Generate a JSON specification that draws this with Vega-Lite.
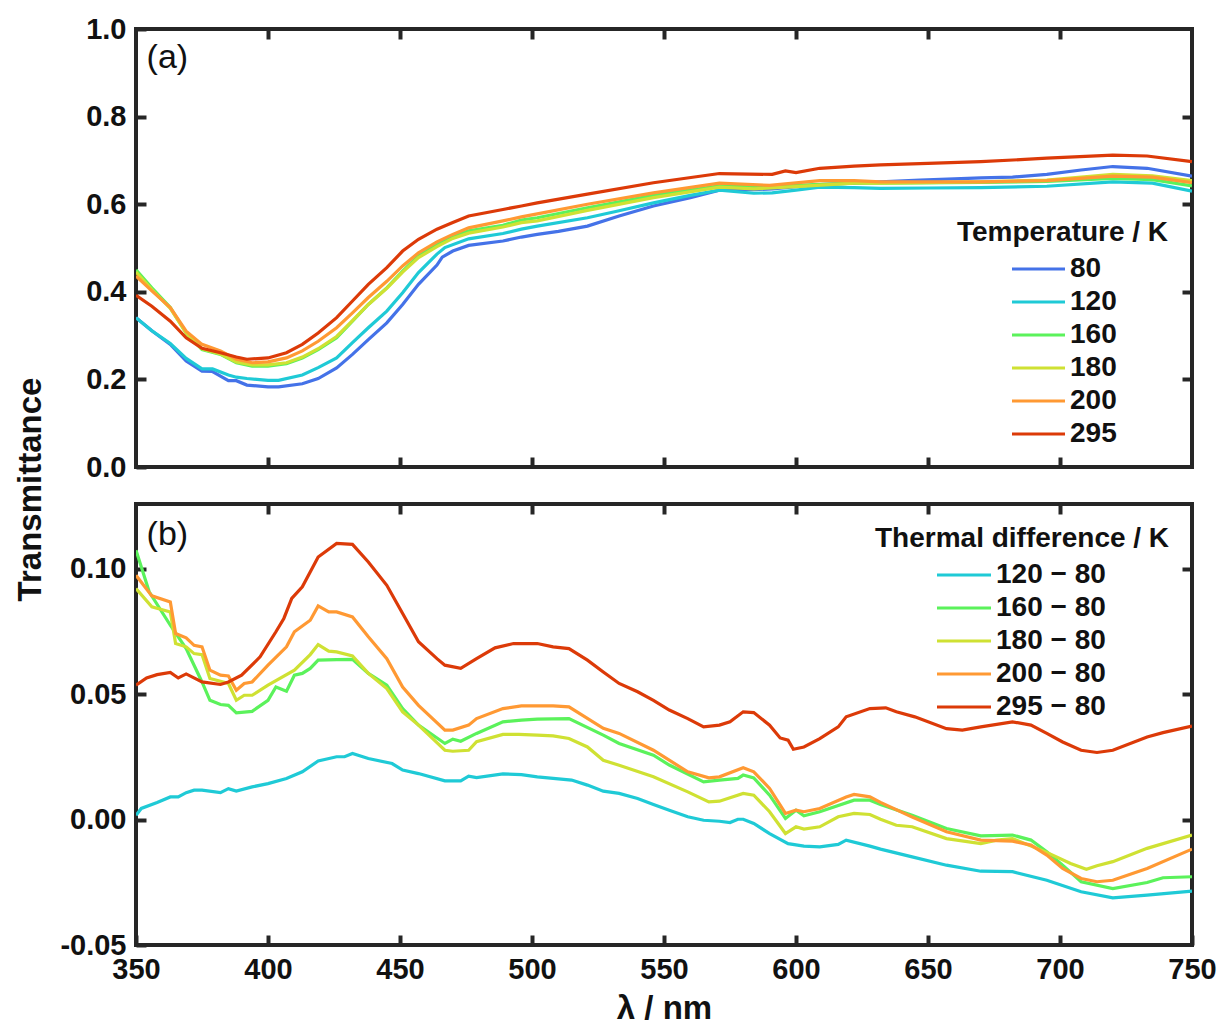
{
"$schema": "https://vega.github.io/schema/vega-lite/v6.json",
"autosize": {"type": "pad"},
"padding": {"left": 12, "top": 13, "right": 5, "bottom": 5},
"background": "white",
"config": {
  "font": "Liberation Sans",
  "view": {"stroke": "#262626", "strokeWidth": 4},
  "axis": {"domain": false, "grid": false, "tickSize": -10, "tickWidth": 4, "tickColor": "#262626", "labelFont": "Liberation Sans", "labelFontWeight": "bold", "labelFontSize": 29, "labelColor": "#111111", "labelPadding": 20, "titleFont": "Liberation Sans", "titleFontWeight": "bold", "titleFontSize": 33, "titleColor": "#111111"},
  "legend": {"titleFont": "Liberation Sans", "titleFontWeight": "bold", "titleFontSize": 28, "titleColor": "#111111", "titleLimit": 500, "labelLimit": 300, "labelFont": "Liberation Sans", "labelFontWeight": "bold", "labelFontSize": 28, "labelColor": "#111111", "padding": 0, "rowPadding": 5, "titlePadding": 8, "symbolSize": 100, "symbolStrokeWidth": 3}
},
"datasets": {
"top": [
{"s":"80","l":350,"v":0.341},{"s":"80","l":356,"v":0.311},{"s":"80","l":363,"v":0.280},{"s":"80","l":369,"v":0.242},{"s":"80","l":375,"v":0.219},{"s":"80","l":379,"v":0.218},{"s":"80","l":385,"v":0.197},{"s":"80","l":388,"v":0.197},{"s":"80","l":392,"v":0.187},{"s":"80","l":400,"v":0.183},{"s":"80","l":404,"v":0.183},{"s":"80","l":413,"v":0.190},{"s":"80","l":419,"v":0.202},{"s":"80","l":426,"v":0.226},{"s":"80","l":432,"v":0.257},{"s":"80","l":438,"v":0.291},{"s":"80","l":445,"v":0.329},{"s":"80","l":451,"v":0.371},{"s":"80","l":457,"v":0.417},{"s":"80","l":464,"v":0.461},{"s":"80","l":466,"v":0.479},{"s":"80","l":470,"v":0.493},{"s":"80","l":476,"v":0.506},{"s":"80","l":489,"v":0.516},{"s":"80","l":496,"v":0.525},{"s":"80","l":502,"v":0.531},{"s":"80","l":510,"v":0.538},{"s":"80","l":521,"v":0.550},{"s":"80","l":533,"v":0.573},{"s":"80","l":546,"v":0.596},{"s":"80","l":560,"v":0.615},{"s":"80","l":571,"v":0.632},{"s":"80","l":584,"v":0.633},{"s":"80","l":591,"v":0.635},{"s":"80","l":600,"v":0.640},{"s":"80","l":609,"v":0.645},{"s":"80","l":622,"v":0.648},{"s":"80","l":632,"v":0.651},{"s":"80","l":647,"v":0.655},{"s":"80","l":660,"v":0.658},{"s":"80","l":670,"v":0.660},{"s":"80","l":682,"v":0.662},{"s":"80","l":695,"v":0.668},{"s":"80","l":708,"v":0.678},{"s":"80","l":720,"v":0.686},{"s":"80","l":733,"v":0.682},{"s":"80","l":750,"v":0.664},
{"s":"120","l":350,"v":0.341},{"s":"120","l":356,"v":0.311},{"s":"120","l":363,"v":0.282},{"s":"120","l":369,"v":0.248},{"s":"120","l":375,"v":0.224},{"s":"120","l":379,"v":0.224},{"s":"120","l":385,"v":0.210},{"s":"120","l":388,"v":0.205},{"s":"120","l":392,"v":0.202},{"s":"120","l":400,"v":0.198},{"s":"120","l":404,"v":0.198},{"s":"120","l":413,"v":0.210},{"s":"120","l":419,"v":0.227},{"s":"120","l":426,"v":0.249},{"s":"120","l":432,"v":0.284},{"s":"120","l":438,"v":0.318},{"s":"120","l":445,"v":0.356},{"s":"120","l":451,"v":0.398},{"s":"120","l":457,"v":0.444},{"s":"120","l":464,"v":0.486},{"s":"120","l":467,"v":0.501},{"s":"120","l":476,"v":0.521},{"s":"120","l":489,"v":0.533},{"s":"120","l":496,"v":0.543},{"s":"120","l":502,"v":0.550},{"s":"120","l":521,"v":0.569},{"s":"120","l":533,"v":0.585},{"s":"120","l":546,"v":0.603},{"s":"120","l":560,"v":0.620},{"s":"120","l":571,"v":0.632},{"s":"120","l":584,"v":0.625},{"s":"120","l":591,"v":0.626},{"s":"120","l":600,"v":0.632},{"s":"120","l":609,"v":0.639},{"s":"120","l":622,"v":0.638},{"s":"120","l":632,"v":0.636},{"s":"120","l":650,"v":0.637},{"s":"120","l":670,"v":0.638},{"s":"120","l":695,"v":0.641},{"s":"120","l":720,"v":0.651},{"s":"120","l":735,"v":0.648},{"s":"120","l":750,"v":0.630},
{"s":"160","l":350,"v":0.450},{"s":"160","l":356,"v":0.409},{"s":"160","l":363,"v":0.364},{"s":"160","l":369,"v":0.306},{"s":"160","l":375,"v":0.268},{"s":"160","l":382,"v":0.257},{"s":"160","l":388,"v":0.238},{"s":"160","l":394,"v":0.230},{"s":"160","l":400,"v":0.230},{"s":"160","l":407,"v":0.236},{"s":"160","l":413,"v":0.249},{"s":"160","l":419,"v":0.268},{"s":"160","l":426,"v":0.295},{"s":"160","l":432,"v":0.333},{"s":"160","l":438,"v":0.371},{"s":"160","l":445,"v":0.409},{"s":"160","l":451,"v":0.447},{"s":"160","l":457,"v":0.482},{"s":"160","l":464,"v":0.508},{"s":"160","l":470,"v":0.527},{"s":"160","l":476,"v":0.539},{"s":"160","l":489,"v":0.552},{"s":"160","l":496,"v":0.564},{"s":"160","l":502,"v":0.569},{"s":"160","l":521,"v":0.592},{"s":"160","l":546,"v":0.620},{"s":"160","l":571,"v":0.642},{"s":"160","l":584,"v":0.640},{"s":"160","l":600,"v":0.643},{"s":"160","l":622,"v":0.648},{"s":"160","l":632,"v":0.648},{"s":"160","l":670,"v":0.650},{"s":"160","l":695,"v":0.652},{"s":"160","l":720,"v":0.659},{"s":"160","l":735,"v":0.656},{"s":"160","l":750,"v":0.642},
{"s":"180","l":350,"v":0.445},{"s":"180","l":356,"v":0.405},{"s":"180","l":363,"v":0.362},{"s":"180","l":369,"v":0.306},{"s":"180","l":375,"v":0.270},{"s":"180","l":382,"v":0.258},{"s":"180","l":388,"v":0.240},{"s":"180","l":394,"v":0.233},{"s":"180","l":400,"v":0.233},{"s":"180","l":407,"v":0.238},{"s":"180","l":413,"v":0.251},{"s":"180","l":419,"v":0.270},{"s":"180","l":426,"v":0.298},{"s":"180","l":432,"v":0.334},{"s":"180","l":438,"v":0.371},{"s":"180","l":445,"v":0.408},{"s":"180","l":451,"v":0.445},{"s":"180","l":457,"v":0.478},{"s":"180","l":464,"v":0.503},{"s":"180","l":470,"v":0.522},{"s":"180","l":476,"v":0.534},{"s":"180","l":489,"v":0.548},{"s":"180","l":496,"v":0.558},{"s":"180","l":502,"v":0.562},{"s":"180","l":521,"v":0.586},{"s":"180","l":546,"v":0.615},{"s":"180","l":571,"v":0.639},{"s":"180","l":584,"v":0.635},{"s":"180","l":600,"v":0.640},{"s":"180","l":622,"v":0.648},{"s":"180","l":632,"v":0.648},{"s":"180","l":670,"v":0.651},{"s":"180","l":695,"v":0.655},{"s":"180","l":720,"v":0.668},{"s":"180","l":735,"v":0.665},{"s":"180","l":750,"v":0.654},
{"s":"200","l":350,"v":0.436},{"s":"200","l":356,"v":0.402},{"s":"200","l":363,"v":0.364},{"s":"200","l":369,"v":0.310},{"s":"200","l":375,"v":0.280},{"s":"200","l":382,"v":0.265},{"s":"200","l":388,"v":0.246},{"s":"200","l":394,"v":0.238},{"s":"200","l":400,"v":0.240},{"s":"200","l":407,"v":0.249},{"s":"200","l":413,"v":0.265},{"s":"200","l":419,"v":0.287},{"s":"200","l":426,"v":0.318},{"s":"200","l":432,"v":0.352},{"s":"200","l":438,"v":0.387},{"s":"200","l":445,"v":0.424},{"s":"200","l":451,"v":0.459},{"s":"200","l":457,"v":0.489},{"s":"200","l":464,"v":0.514},{"s":"200","l":470,"v":0.531},{"s":"200","l":476,"v":0.546},{"s":"200","l":489,"v":0.562},{"s":"200","l":496,"v":0.571},{"s":"200","l":502,"v":0.578},{"s":"200","l":521,"v":0.600},{"s":"200","l":546,"v":0.626},{"s":"200","l":571,"v":0.648},{"s":"200","l":590,"v":0.643},{"s":"200","l":609,"v":0.654},{"s":"200","l":622,"v":0.654},{"s":"200","l":632,"v":0.651},{"s":"200","l":670,"v":0.651},{"s":"200","l":695,"v":0.654},{"s":"200","l":720,"v":0.664},{"s":"200","l":735,"v":0.662},{"s":"200","l":750,"v":0.649},
{"s":"295","l":350,"v":0.392},{"s":"295","l":356,"v":0.367},{"s":"295","l":363,"v":0.333},{"s":"295","l":369,"v":0.295},{"s":"295","l":375,"v":0.271},{"s":"295","l":382,"v":0.261},{"s":"295","l":388,"v":0.251},{"s":"295","l":392,"v":0.246},{"s":"295","l":400,"v":0.249},{"s":"295","l":407,"v":0.261},{"s":"295","l":413,"v":0.280},{"s":"295","l":419,"v":0.306},{"s":"295","l":426,"v":0.341},{"s":"295","l":432,"v":0.379},{"s":"295","l":438,"v":0.417},{"s":"295","l":445,"v":0.455},{"s":"295","l":451,"v":0.493},{"s":"295","l":457,"v":0.520},{"s":"295","l":464,"v":0.543},{"s":"295","l":470,"v":0.558},{"s":"295","l":476,"v":0.573},{"s":"295","l":489,"v":0.588},{"s":"295","l":496,"v":0.596},{"s":"295","l":502,"v":0.603},{"s":"295","l":521,"v":0.623},{"s":"295","l":546,"v":0.649},{"s":"295","l":571,"v":0.670},{"s":"295","l":591,"v":0.668},{"s":"295","l":596,"v":0.676},{"s":"295","l":600,"v":0.672},{"s":"295","l":609,"v":0.682},{"s":"295","l":622,"v":0.687},{"s":"295","l":632,"v":0.690},{"s":"295","l":650,"v":0.693},{"s":"295","l":670,"v":0.697},{"s":"295","l":695,"v":0.705},{"s":"295","l":720,"v":0.712},{"s":"295","l":733,"v":0.710},{"s":"295","l":750,"v":0.697}
],
"bot": [
{"s":"120 − 80","l":350,"v":0.0017},{"s":"120 − 80","l":352,"v":0.0044},{"s":"120 − 80","l":358,"v":0.0068},{"s":"120 − 80","l":363,"v":0.0090},{"s":"120 − 80","l":366,"v":0.0090},{"s":"120 − 80","l":369,"v":0.0107},{"s":"120 − 80","l":372,"v":0.0117},{"s":"120 − 80","l":375,"v":0.0117},{"s":"120 − 80","l":382,"v":0.0107},{"s":"120 − 80","l":385,"v":0.0123},{"s":"120 − 80","l":388,"v":0.0113},{"s":"120 − 80","l":394,"v":0.0130},{"s":"120 − 80","l":400,"v":0.0143},{"s":"120 − 80","l":407,"v":0.0163},{"s":"120 − 80","l":413,"v":0.0190},{"s":"120 − 80","l":419,"v":0.0233},{"s":"120 − 80","l":426,"v":0.0250},{"s":"120 − 80","l":429,"v":0.0250},{"s":"120 − 80","l":432,"v":0.0263},{"s":"120 − 80","l":438,"v":0.0243},{"s":"120 − 80","l":447,"v":0.0223},{"s":"120 − 80","l":451,"v":0.0197},{"s":"120 − 80","l":457,"v":0.0183},{"s":"120 − 80","l":467,"v":0.0154},{"s":"120 − 80","l":473,"v":0.0154},{"s":"120 − 80","l":476,"v":0.0173},{"s":"120 − 80","l":479,"v":0.0167},{"s":"120 − 80","l":489,"v":0.0182},{"s":"120 − 80","l":496,"v":0.0179},{"s":"120 − 80","l":502,"v":0.0170},{"s":"120 − 80","l":515,"v":0.0157},{"s":"120 − 80","l":521,"v":0.0137},{"s":"120 − 80","l":527,"v":0.0113},{"s":"120 − 80","l":533,"v":0.0104},{"s":"120 − 80","l":540,"v":0.0084},{"s":"120 − 80","l":546,"v":0.0060},{"s":"120 − 80","l":552,"v":0.0037},{"s":"120 − 80","l":559,"v":0.0011},{"s":"120 − 80","l":565,"v":-0.0003},{"s":"120 − 80","l":571,"v":-0.0007},{"s":"120 − 80","l":575,"v":-0.0012},{"s":"120 − 80","l":578,"v":0.0001},{"s":"120 − 80","l":580,"v":0.0001},{"s":"120 − 80","l":584,"v":-0.0016},{"s":"120 − 80","l":590,"v":-0.0056},{"s":"120 − 80","l":597,"v":-0.0096},{"s":"120 − 80","l":603,"v":-0.0106},{"s":"120 − 80","l":609,"v":-0.0109},{"s":"120 − 80","l":616,"v":-0.0099},{"s":"120 − 80","l":619,"v":-0.0082},{"s":"120 − 80","l":628,"v":-0.0106},{"s":"120 − 80","l":632,"v":-0.0118},{"s":"120 − 80","l":644,"v":-0.0149},{"s":"120 − 80","l":657,"v":-0.0182},{"s":"120 − 80","l":670,"v":-0.0206},{"s":"120 − 80","l":682,"v":-0.0208},{"s":"120 − 80","l":695,"v":-0.0242},{"s":"120 − 80","l":708,"v":-0.0288},{"s":"120 − 80","l":720,"v":-0.0312},{"s":"120 − 80","l":733,"v":-0.0301},{"s":"120 − 80","l":750,"v":-0.0285},
{"s":"160 − 80","l":350,"v":0.1073},{"s":"160 − 80","l":355,"v":0.0907},{"s":"160 − 80","l":363,"v":0.0774},{"s":"160 − 80","l":369,"v":0.0681},{"s":"160 − 80","l":375,"v":0.0548},{"s":"160 − 80","l":378,"v":0.0475},{"s":"160 − 80","l":382,"v":0.0458},{"s":"160 − 80","l":385,"v":0.0455},{"s":"160 − 80","l":388,"v":0.0425},{"s":"160 − 80","l":394,"v":0.0431},{"s":"160 − 80","l":400,"v":0.0475},{"s":"160 − 80","l":403,"v":0.0528},{"s":"160 − 80","l":407,"v":0.0511},{"s":"160 − 80","l":410,"v":0.0575},{"s":"160 − 80","l":413,"v":0.0582},{"s":"160 − 80","l":416,"v":0.0602},{"s":"160 − 80","l":419,"v":0.0635},{"s":"160 − 80","l":426,"v":0.0637},{"s":"160 − 80","l":432,"v":0.0638},{"s":"160 − 80","l":438,"v":0.0582},{"s":"160 − 80","l":445,"v":0.0535},{"s":"160 − 80","l":451,"v":0.0442},{"s":"160 − 80","l":457,"v":0.0376},{"s":"160 − 80","l":467,"v":0.0303},{"s":"160 − 80","l":470,"v":0.0320},{"s":"160 − 80","l":473,"v":0.0312},{"s":"160 − 80","l":479,"v":0.0343},{"s":"160 − 80","l":489,"v":0.0389},{"s":"160 − 80","l":496,"v":0.0396},{"s":"160 − 80","l":502,"v":0.0400},{"s":"160 − 80","l":514,"v":0.0402},{"s":"160 − 80","l":527,"v":0.0336},{"s":"160 − 80","l":533,"v":0.0303},{"s":"160 − 80","l":546,"v":0.0256},{"s":"160 − 80","l":552,"v":0.0217},{"s":"160 − 80","l":565,"v":0.0150},{"s":"160 − 80","l":571,"v":0.0157},{"s":"160 − 80","l":578,"v":0.0164},{"s":"160 − 80","l":580,"v":0.0177},{"s":"160 − 80","l":584,"v":0.0166},{"s":"160 − 80","l":590,"v":0.0097},{"s":"160 − 80","l":596,"v":0.0004},{"s":"160 − 80","l":600,"v":0.0037},{"s":"160 − 80","l":603,"v":0.0015},{"s":"160 − 80","l":609,"v":0.0031},{"s":"160 − 80","l":622,"v":0.0077},{"s":"160 − 80","l":628,"v":0.0077},{"s":"160 − 80","l":632,"v":0.0060},{"s":"160 − 80","l":644,"v":0.0017},{"s":"160 − 80","l":657,"v":-0.0036},{"s":"160 − 80","l":670,"v":-0.0065},{"s":"160 − 80","l":682,"v":-0.0062},{"s":"160 − 80","l":689,"v":-0.0082},{"s":"160 − 80","l":695,"v":-0.0129},{"s":"160 − 80","l":701,"v":-0.0182},{"s":"160 − 80","l":708,"v":-0.0248},{"s":"160 − 80","l":720,"v":-0.0275},{"s":"160 − 80","l":733,"v":-0.0251},{"s":"160 − 80","l":739,"v":-0.0232},{"s":"160 − 80","l":750,"v":-0.0228},
{"s":"180 − 80","l":350,"v":0.0920},{"s":"180 − 80","l":356,"v":0.0847},{"s":"180 − 80","l":363,"v":0.0827},{"s":"180 − 80","l":365,"v":0.0701},{"s":"180 − 80","l":369,"v":0.0688},{"s":"180 − 80","l":372,"v":0.0661},{"s":"180 − 80","l":375,"v":0.0657},{"s":"180 − 80","l":378,"v":0.0562},{"s":"180 − 80","l":385,"v":0.0542},{"s":"180 − 80","l":388,"v":0.0475},{"s":"180 − 80","l":391,"v":0.0495},{"s":"180 − 80","l":394,"v":0.0495},{"s":"180 − 80","l":400,"v":0.0535},{"s":"180 − 80","l":410,"v":0.0595},{"s":"180 − 80","l":416,"v":0.0657},{"s":"180 − 80","l":419,"v":0.0697},{"s":"180 − 80","l":423,"v":0.0671},{"s":"180 − 80","l":426,"v":0.0668},{"s":"180 − 80","l":432,"v":0.0652},{"s":"180 − 80","l":438,"v":0.0582},{"s":"180 − 80","l":445,"v":0.0522},{"s":"180 − 80","l":451,"v":0.0429},{"s":"180 − 80","l":457,"v":0.0376},{"s":"180 − 80","l":467,"v":0.0276},{"s":"180 − 80","l":470,"v":0.0272},{"s":"180 − 80","l":476,"v":0.0276},{"s":"180 − 80","l":479,"v":0.0310},{"s":"180 − 80","l":489,"v":0.0339},{"s":"180 − 80","l":495,"v":0.0339},{"s":"180 − 80","l":502,"v":0.0336},{"s":"180 − 80","l":508,"v":0.0333},{"s":"180 − 80","l":514,"v":0.0323},{"s":"180 − 80","l":521,"v":0.0289},{"s":"180 − 80","l":527,"v":0.0236},{"s":"180 − 80","l":533,"v":0.0216},{"s":"180 − 80","l":546,"v":0.0170},{"s":"180 − 80","l":559,"v":0.0110},{"s":"180 − 80","l":567,"v":0.0070},{"s":"180 − 80","l":571,"v":0.0073},{"s":"180 − 80","l":580,"v":0.0104},{"s":"180 − 80","l":584,"v":0.0097},{"s":"180 − 80","l":590,"v":0.0031},{"s":"180 − 80","l":596,"v":-0.0056},{"s":"180 − 80","l":600,"v":-0.0029},{"s":"180 − 80","l":603,"v":-0.0038},{"s":"180 − 80","l":609,"v":-0.0029},{"s":"180 − 80","l":616,"v":0.0011},{"s":"180 − 80","l":622,"v":0.0024},{"s":"180 − 80","l":628,"v":0.0020},{"s":"180 − 80","l":632,"v":0.0001},{"s":"180 − 80","l":638,"v":-0.0023},{"s":"180 − 80","l":644,"v":-0.0029},{"s":"180 − 80","l":657,"v":-0.0076},{"s":"180 − 80","l":670,"v":-0.0096},{"s":"180 − 80","l":676,"v":-0.0082},{"s":"180 − 80","l":682,"v":-0.0076},{"s":"180 − 80","l":695,"v":-0.0131},{"s":"180 − 80","l":704,"v":-0.0175},{"s":"180 − 80","l":710,"v":-0.0198},{"s":"180 − 80","l":714,"v":-0.0184},{"s":"180 − 80","l":720,"v":-0.0168},{"s":"180 − 80","l":733,"v":-0.0115},{"s":"180 − 80","l":750,"v":-0.0062},
{"s":"200 − 80","l":350,"v":0.0973},{"s":"200 − 80","l":356,"v":0.0891},{"s":"200 − 80","l":363,"v":0.0867},{"s":"200 − 80","l":365,"v":0.0741},{"s":"200 − 80","l":369,"v":0.0724},{"s":"200 − 80","l":372,"v":0.0694},{"s":"200 − 80","l":375,"v":0.0688},{"s":"200 − 80","l":378,"v":0.0595},{"s":"200 − 80","l":382,"v":0.0575},{"s":"200 − 80","l":385,"v":0.0572},{"s":"200 − 80","l":388,"v":0.0515},{"s":"200 − 80","l":391,"v":0.0542},{"s":"200 − 80","l":394,"v":0.0548},{"s":"200 − 80","l":400,"v":0.0615},{"s":"200 − 80","l":407,"v":0.0688},{"s":"200 − 80","l":410,"v":0.0748},{"s":"200 − 80","l":416,"v":0.0794},{"s":"200 − 80","l":419,"v":0.0851},{"s":"200 − 80","l":423,"v":0.0827},{"s":"200 − 80","l":426,"v":0.0827},{"s":"200 − 80","l":432,"v":0.0807},{"s":"200 − 80","l":438,"v":0.0728},{"s":"200 − 80","l":445,"v":0.0641},{"s":"200 − 80","l":451,"v":0.0528},{"s":"200 − 80","l":457,"v":0.0455},{"s":"200 − 80","l":467,"v":0.0356},{"s":"200 − 80","l":470,"v":0.0356},{"s":"200 − 80","l":476,"v":0.0376},{"s":"200 − 80","l":479,"v":0.0402},{"s":"200 − 80","l":489,"v":0.0442},{"s":"200 − 80","l":496,"v":0.0453},{"s":"200 − 80","l":508,"v":0.0453},{"s":"200 − 80","l":514,"v":0.0449},{"s":"200 − 80","l":527,"v":0.0363},{"s":"200 − 80","l":533,"v":0.0343},{"s":"200 − 80","l":546,"v":0.0276},{"s":"200 − 80","l":559,"v":0.0190},{"s":"200 − 80","l":567,"v":0.0166},{"s":"200 − 80","l":571,"v":0.0170},{"s":"200 − 80","l":580,"v":0.0206},{"s":"200 − 80","l":584,"v":0.0190},{"s":"200 − 80","l":590,"v":0.0124},{"s":"200 − 80","l":596,"v":0.0024},{"s":"200 − 80","l":600,"v":0.0037},{"s":"200 − 80","l":603,"v":0.0031},{"s":"200 − 80","l":609,"v":0.0044},{"s":"200 − 80","l":619,"v":0.0090},{"s":"200 − 80","l":622,"v":0.0100},{"s":"200 − 80","l":628,"v":0.0090},{"s":"200 − 80","l":632,"v":0.0068},{"s":"200 − 80","l":644,"v":0.0010},{"s":"200 − 80","l":657,"v":-0.0049},{"s":"200 − 80","l":670,"v":-0.0082},{"s":"200 − 80","l":682,"v":-0.0086},{"s":"200 − 80","l":689,"v":-0.0102},{"s":"200 − 80","l":695,"v":-0.0142},{"s":"200 − 80","l":701,"v":-0.0195},{"s":"200 − 80","l":708,"v":-0.0235},{"s":"200 − 80","l":714,"v":-0.0248},{"s":"200 − 80","l":720,"v":-0.0242},{"s":"200 − 80","l":733,"v":-0.0195},{"s":"200 − 80","l":750,"v":-0.0118},
{"s":"295 − 80","l":350,"v":0.0535},{"s":"295 − 80","l":354,"v":0.0564},{"s":"295 − 80","l":358,"v":0.0577},{"s":"295 − 80","l":363,"v":0.0586},{"s":"295 − 80","l":366,"v":0.0564},{"s":"295 − 80","l":369,"v":0.0580},{"s":"295 − 80","l":375,"v":0.0548},{"s":"295 − 80","l":382,"v":0.0538},{"s":"295 − 80","l":385,"v":0.0548},{"s":"295 − 80","l":390,"v":0.0575},{"s":"295 − 80","l":397,"v":0.0648},{"s":"295 − 80","l":403,"v":0.0748},{"s":"295 − 80","l":406,"v":0.0801},{"s":"295 − 80","l":409,"v":0.0881},{"s":"295 − 80","l":413,"v":0.0927},{"s":"295 − 80","l":419,"v":0.1046},{"s":"295 − 80","l":426,"v":0.1100},{"s":"295 − 80","l":432,"v":0.1096},{"s":"295 − 80","l":438,"v":0.1026},{"s":"295 − 80","l":445,"v":0.0933},{"s":"295 − 80","l":451,"v":0.0821},{"s":"295 − 80","l":457,"v":0.0708},{"s":"295 − 80","l":464,"v":0.0641},{"s":"295 − 80","l":467,"v":0.0615},{"s":"295 − 80","l":473,"v":0.0602},{"s":"295 − 80","l":479,"v":0.0641},{"s":"295 − 80","l":486,"v":0.0684},{"s":"295 − 80","l":493,"v":0.0701},{"s":"295 − 80","l":502,"v":0.0701},{"s":"295 − 80","l":508,"v":0.0688},{"s":"295 − 80","l":514,"v":0.0681},{"s":"295 − 80","l":521,"v":0.0635},{"s":"295 − 80","l":527,"v":0.0588},{"s":"295 − 80","l":533,"v":0.0542},{"s":"295 − 80","l":540,"v":0.0509},{"s":"295 − 80","l":546,"v":0.0475},{"s":"295 − 80","l":552,"v":0.0436},{"s":"295 − 80","l":559,"v":0.0402},{"s":"295 − 80","l":565,"v":0.0369},{"s":"295 − 80","l":571,"v":0.0376},{"s":"295 − 80","l":575,"v":0.0389},{"s":"295 − 80","l":580,"v":0.0429},{"s":"295 − 80","l":584,"v":0.0426},{"s":"295 − 80","l":590,"v":0.0376},{"s":"295 − 80","l":594,"v":0.0325},{"s":"295 − 80","l":597,"v":0.0316},{"s":"295 − 80","l":599,"v":0.0280},{"s":"295 − 80","l":603,"v":0.0289},{"s":"295 − 80","l":609,"v":0.0322},{"s":"295 − 80","l":616,"v":0.0369},{"s":"295 − 80","l":619,"v":0.0409},{"s":"295 − 80","l":628,"v":0.0442},{"s":"295 − 80","l":634,"v":0.0445},{"s":"295 − 80","l":638,"v":0.0429},{"s":"295 − 80","l":645,"v":0.0409},{"s":"295 − 80","l":657,"v":0.0362},{"s":"295 − 80","l":663,"v":0.0356},{"s":"295 − 80","l":670,"v":0.0369},{"s":"295 − 80","l":682,"v":0.0389},{"s":"295 − 80","l":689,"v":0.0376},{"s":"295 − 80","l":695,"v":0.0343},{"s":"295 − 80","l":701,"v":0.0309},{"s":"295 − 80","l":708,"v":0.0276},{"s":"295 − 80","l":714,"v":0.0267},{"s":"295 − 80","l":720,"v":0.0276},{"s":"295 − 80","l":733,"v":0.0329},{"s":"295 − 80","l":739,"v":0.0346},{"s":"295 − 80","l":750,"v":0.0372}
]
},
"spacing": 37,
"bounds": "flush",
"resolve": {"scale": {"color": "independent"}},
"vconcat": [
{
  "width": 1056, "height": 438,
  "layer": [
    {"data": {"name": "top"},
     "mark": {"type": "line", "strokeWidth": 3.2, "clip": true},
     "encoding": {
       "x": {"field": "l", "type": "quantitative", "scale": {"domain": [350, 750], "nice": false}, "axis": {"orient": "bottom", "labels": false, "values": [400, 450, 500, 550, 600, 650, 700], "title": null}},
       "y": {"field": "v", "type": "quantitative", "scale": {"domain": [0, 1], "nice": false}, "axis": {"orient": "left", "values": [0, 0.2, 0.4, 0.6, 0.8, 1.0], "format": ".1f", "title": "Transmittance", "titleAngle": 270, "titleBaseline": "middle", "titleAlign": "center", "titleX": -106, "titleY": 460}},
       "color": {"field": "s", "type": "nominal", "scale": {"domain": ["80", "120", "160", "180", "200", "295"], "range": ["#4472E8", "#1FCAD6", "#5BF25B", "#CFE133", "#FF9933", "#DC3A08"]},
         "legend": {"title": "Temperature / K", "orient": "none", "legendX": 821, "legendY": 190, "symbolType": "M8.2,0H18.8", "labelOffset": 85}}
     }},
    {"data": {"name": "top"},
     "mark": {"type": "point", "opacity": 0},
     "encoding": {
       "x": {"field": "l", "type": "quantitative", "axis": {"orient": "top", "labels": false, "values": [400, 450, 500, 550, 600, 650, 700], "title": null}},
       "y": {"field": "v", "type": "quantitative", "axis": {"orient": "right", "labels": false, "values": [0.2, 0.4, 0.6, 0.8], "title": null}}
     }},
    {"data": {"values": [{"t": "(a)"}]},
     "mark": {"type": "text", "align": "left", "baseline": "middle", "fontSize": 34, "fontWeight": "normal", "font": "Liberation Sans", "color": "#111111"},
     "encoding": {
       "text": {"field": "t"},
       "x": {"datum": 354, "type": "quantitative", "axis": null},
       "y": {"datum": 0.934, "type": "quantitative", "axis": null}
     }}
  ],
  "resolve": {"axis": {"x": "independent", "y": "independent"}}
},
{
  "width": 1056, "height": 441,
  "layer": [
    {"data": {"name": "bot"},
     "mark": {"type": "line", "strokeWidth": 3.2, "clip": true},
     "encoding": {
       "x": {"field": "l", "type": "quantitative", "scale": {"domain": [350, 750], "nice": false}, "axis": {"orient": "bottom", "values": [350, 400, 450, 500, 550, 600, 650, 700, 750], "title": "λ / nm", "titlePadding": 8, "labelFlush": false}},
       "y": {"field": "v", "type": "quantitative", "scale": {"domain": [-0.05, 0.1257], "nice": false}, "axis": {"orient": "left", "values": [-0.05, 0, 0.05, 0.1], "labelExpr": "datum.value < 0 ? '-' + format(-datum.value, '.2f') : format(datum.value, '.2f')", "title": null}},
       "color": {"field": "s", "type": "nominal", "scale": {"domain": ["120 − 80", "160 − 80", "180 − 80", "200 − 80", "295 − 80"], "range": ["#1FCAD6", "#5BF25B", "#CFE133", "#FF9933", "#DC3A08"]},
         "legend": {"title": "Thermal difference / K", "orient": "none", "legendX": 739, "legendY": 21, "symbolType": "M9.6,0H20.4", "labelOffset": 93}}
     }},
    {"data": {"name": "bot"},
     "mark": {"type": "point", "opacity": 0},
     "encoding": {
       "x": {"field": "l", "type": "quantitative", "axis": {"orient": "top", "labels": false, "values": [400, 450, 500, 550, 600, 650, 700], "title": null}},
       "y": {"field": "v", "type": "quantitative", "axis": {"orient": "right", "labels": false, "values": [0, 0.05, 0.1], "title": null}}
     }},
    {"data": {"values": [{"t": "(b)"}]},
     "mark": {"type": "text", "align": "left", "baseline": "middle", "fontSize": 34, "fontWeight": "normal", "font": "Liberation Sans", "color": "#111111"},
     "encoding": {
       "text": {"field": "t"},
       "x": {"datum": 354, "type": "quantitative", "axis": null},
       "y": {"datum": 0.1135, "type": "quantitative", "axis": null}
     }}
  ],
  "resolve": {"axis": {"x": "independent", "y": "independent"}}
}
]
}
